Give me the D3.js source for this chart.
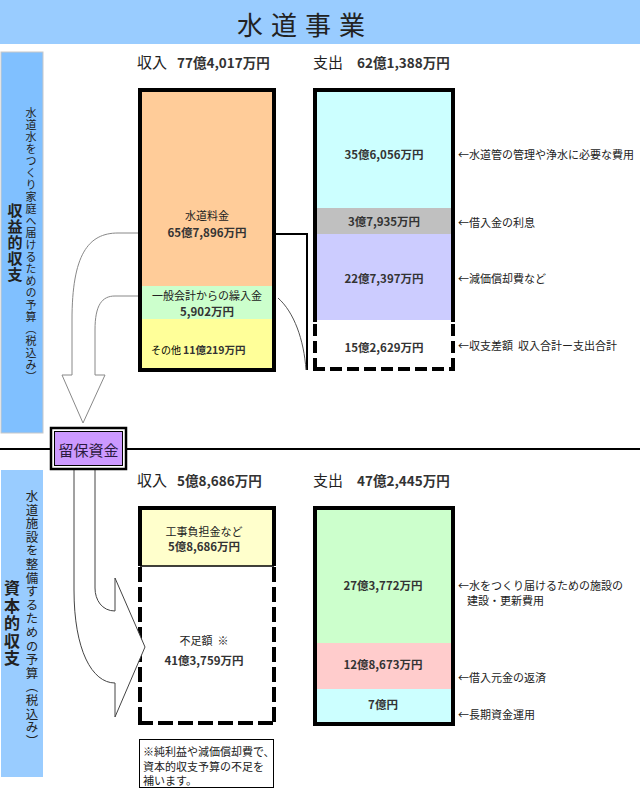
<!DOCTYPE html>
<html lang="ja">
<head>
<meta charset="utf-8">
<title>水道事業</title>
<script src="https://cdn.jsdelivr.net/npm/d3@7"></script>
<style>
  body { margin: 0; background: #fff; }
  svg { display: block; font-family: "Noto Sans CJK JP", "Noto Sans", sans-serif; }
  text { white-space: pre; }
  .val { font-weight: bold; fill: #333; font-size: 11.5px; }
  .lab { fill: #222; font-size: 11px; }
  .ann { fill: #222; font-size: 11px; }
  .head { fill: #222; font-size: 15px; }
  .headval { fill: #333; font-size: 13.5px; font-weight: bold; }
</style>
</head>
<body>
<div id="wrapper"></div>
<script>
// 金額はすべて万円
const sectionTitles = ["収益的収支", "資本的収支"]
const sectionNotes = ["水道水をつくり家庭へ届けるための予算（税込み）", "水道施設を整備するための予算（税込み）"]

const revLabels1 = ["水道料金", "一般会計からの繰入金", "その他"]
const revValues1 = [657896, 5902, 110219]
const expValues1 = [356056, 37935, 227397]
const expNotes1 = [["←水道管の管理や浄水に必要な費用"], ["←借入金の利息"], ["←減価償却費など"], ["←収支差額  収入合計ー支出合計"]]

const revLabels2 = ["工事負担金など", "不足額  ※"]
const revValues2 = [58686]
const expValues2 = [273772, 128673, 70000]
const expNotes2 = [["←水をつくり届けるための施設の", "建設・更新費用"], ["←借入元金の返済"], ["←長期資金運用"]]

const footNote = ["※純利益や減価償却費で、", "資本的収支予算の不足を", "補います。"]

function yen(v) {
    const oku = Math.floor(v / 10000), man = v % 10000
    let s = ""
    if (oku) s += oku + "億"
    if (man) s += d3.format(",")(man) + "万"
    return s + "円"
}

const revTotal1 = d3.sum(revValues1)
const expTotal1 = d3.sum(expValues1)
const surplus1 = revTotal1 - expTotal1
const expTotal2 = d3.sum(expValues2)
const revTotal2 = d3.sum(revValues2)
const shortfall2 = expTotal2 - revTotal2

const svg = d3.select("#wrapper").append("svg")
    .attr("width", 640)
    .attr("height", 790)

// 見出し
svg.append("rect").attr("x", 0).attr("y", 0).attr("width", 640).attr("height", 44).attr("fill", "#99ccff")
svg.append("text")
    .attr("x", 305).attr("y", 23)
    .attr("text-anchor", "middle").attr("dominant-baseline", "central")
    .style("font-size", "26px").style("letter-spacing", "8px").attr("fill", "#222")
    .text("水道事業")

// 左の帯
const bands = [
    {y: 52, h: 381, fill: "#80c0ff", tx: 15, ty: 203, fs: 15, ls: 1, nx: 31, ny: 107, nfs: 11, nls: 1},
    {y: 470, h: 307, fill: "#99ccff", tx: 12, ty: 580, fs: 16, ls: 1.5, nx: 32, ny: 490, nfs: 12.5, nls: 1.1}
]
bands.forEach((b, i) => {
    svg.append("rect")
        .attr("x", 1).attr("y", b.y).attr("width", 42).attr("height", b.h)
        .attr("fill", b.fill).attr("stroke", i == 0 ? "#c8c8c8" : "none")
    svg.append("text")
        .attr("x", b.tx).attr("y", b.ty)
        .style("writing-mode", "vertical-rl")
        .style("font-size", b.fs + "px").style("font-weight", "bold").style("letter-spacing", b.ls + "px")
        .attr("fill", "#222")
        .text(sectionTitles[i])
    svg.append("text")
        .attr("x", b.nx).attr("y", b.ny)
        .style("writing-mode", "vertical-rl")
        .style("font-size", b.nfs + "px").style("letter-spacing", b.nls + "px")
        .attr("fill", "#222")
        .text(sectionNotes[i])
})

// 区切り線
svg.append("line").attr("x1", 0).attr("x2", 640).attr("y1", 449).attr("y2", 449)
    .attr("stroke", "#000").attr("stroke-width", 2)

// 棒の位置
const revX = [140, 274], expX = [315, 453]
const annX = 458

function header(y, title, value, x, vx) {
    const t = svg.append("text").attr("y", y)
    t.append("tspan").attr("class", "head").attr("x", x).text(title)
    t.append("tspan").attr("class", "headval").attr("x", vx).text(yen(value))
}
header(68, "収入", revTotal1, 137, 177)
header(68, "支出", expTotal1, 313, 357)
header(486, "収入", revTotal2, 137, 177)
header(486, "支出", expTotal2, 313, 357)

function segments(values, scale) {
    const stops = [0, ...d3.cumsum(values)]
    return values.map((v, i) => ({v, y0: scale(stops[i]), y1: scale(stops[i + 1])}))
}

function fills(segs, xs, colors) {
    svg.append("g").selectAll("rect").data(segs).join("rect")
        .attr("x", xs[0] + 2).attr("width", xs[1] - xs[0] - 4)
        .attr("y", d => d.y0).attr("height", d => d.y1 - d.y0)
        .attr("fill", (d, i) => colors[i])
}

function solid(d) {
    svg.append("path").attr("d", d).attr("fill", "none")
        .attr("stroke", "#000").attr("stroke-width", 4)
}

function dashed(xs, ya, yb, dash) {
    const g = svg.append("g").attr("stroke", "#000").attr("stroke-width", 4).attr("stroke-dasharray", dash)
    g.append("line").attr("x1", xs[0]).attr("x2", xs[0]).attr("y1", ya).attr("y2", yb)
    g.append("line").attr("x1", xs[1]).attr("x2", xs[1]).attr("y1", ya).attr("y2", yb)
    g.append("line").attr("x1", xs[0] - 2).attr("x2", xs[1] + 2).attr("y1", yb).attr("y2", yb)
}

function valueLabel(x, y, lines) {
    const t = svg.append("text").attr("x", x).attr("text-anchor", "middle").attr("dominant-baseline", "central")
    lines.forEach(l => {
        t.append("tspan").attr("x", x).attr("y", y + l.dy)
            .attr("class", l.bold ? "val" : "lab").text(l.text)
    })
}

function notes(segs, list, dys) {
    segs.forEach((s, i) => {
        const y = (s.y0 + s.y1) / 2 + dys[i]
        list[i].forEach((line, j) => {
            svg.append("text").attr("class", "ann")
                .attr("x", j == 0 ? annX : annX + 9).attr("y", y + j * 15)
                .attr("dominant-baseline", "central")
                .text(line)
        })
    })
}

// ---- 収益的収支 ----
const rev1Y = d3.scaleLinear().domain([0, ...d3.cumsum(revValues1)]).range([92, 286, 319, 368])
const exp1Y = d3.scaleLinear().domain([0, ...d3.cumsum(expValues1), revTotal1]).range([92, 208, 234, 320, 369])

const rev1 = segments(revValues1, rev1Y)
const exp1 = segments([...expValues1, surplus1], exp1Y)

fills(rev1, revX, ["#ffcc99", "#ccffcc", "#ffff99"])
fills(exp1.slice(0, 3), expX, ["#ccffff", "#c0c0c0", "#ccccff"])

solid(`M${revX[0]},90 H${revX[1]} V370 H${revX[0]} Z`)
solid(`M${expX[0]},322 V90 H${expX[1]} V322`)
dashed(expX, 324, 369, "12,5")

const rcx1 = (revX[0] + revX[1]) / 2, ecx1 = (expX[0] + expX[1]) / 2
valueLabel(rcx1, rev1[0].y0 + (rev1[0].y1 - rev1[0].y0) * 0.68, [
    {text: revLabels1[0], dy: -8.5}, {text: yen(revValues1[0]), dy: 8.5, bold: true}])
valueLabel(rcx1, (rev1[1].y0 + rev1[1].y1) / 2, [
    {text: revLabels1[1], dy: -7.5}, {text: yen(revValues1[1]), dy: 8, bold: true}])
const otherY = (rev1[2].y0 + rev1[2].y1) / 2 + 6
svg.append("text").attr("class", "lab").attr("x", 151).attr("y", otherY)
    .attr("dominant-baseline", "central").style("fill", "#000").style("font-size", "10px").text(revLabels1[2])
svg.append("text").attr("class", "val").attr("x", 183).attr("y", otherY)
    .attr("dominant-baseline", "central").style("font-size", "10.5px").text(yen(revValues1[2]))

const expDy1 = [4, 0, 1, 2]
exp1.forEach((s, i) => valueLabel(ecx1, (s.y0 + s.y1) / 2 + expDy1[i], [{text: yen(s.v), dy: 0, bold: true}]))
notes(exp1, expNotes1, [4, 1, 1, 0])

// 収入から支出への線
svg.append("path").attr("d", `M${revX[1] + 2},234 H307 V370`)
    .attr("fill", "none").attr("stroke", "#000").attr("stroke-width", 2)
svg.append("path").attr("d", `M${revX[1] + 4},298 C294,312 304,340 306,370`)
    .attr("fill", "none").attr("stroke", "#555").attr("stroke-width", 1)

// ---- 資本的収支 ----
const rev2Y = d3.scaleLinear().domain([0, revTotal2, expTotal2]).range([510, 566, 723])
const exp2Y = d3.scaleLinear().domain([0, ...d3.cumsum(expValues2)]).range([510, 643, 689, 722])

const rev2 = segments([...revValues2, shortfall2], rev2Y)
const exp2 = segments(expValues2, exp2Y)

fills(rev2.slice(0, 1), revX, ["#ffffcc"])
fills(exp2, expX, ["#ccffcc", "#ffcccc", "#ccffff"])

solid(`M${revX[0]},${rev2[0].y1} V508 H${revX[1]} V${rev2[0].y1}`)
svg.append("line").attr("x1", revX[0]).attr("x2", revX[1]).attr("y1", rev2[0].y1).attr("y2", rev2[0].y1)
    .attr("stroke", "#000").attr("stroke-width", 1.5)
dashed(revX, rev2[0].y1 + 1, 723, "15,5")
solid(`M${expX[0]},508 H${expX[1]} V724 H${expX[0]} Z`)

valueLabel(rcx1 - 3, (rev2[0].y0 + rev2[0].y1) / 2, [
    {text: revLabels2[0], dy: -7}, {text: yen(revValues2[0]), dy: 8, bold: true}])
valueLabel(rcx1 - 3, (rev2[1].y0 + rev2[1].y1) / 2 + 5, [
    {text: revLabels2[1], dy: -10}, {text: yen(shortfall2), dy: 10, bold: true}])

const expDy2 = [8, -2, -2]
exp2.forEach((s, i) => valueLabel(ecx1 - 1, (s.y0 + s.y1) / 2 + expDy2[i], [{text: yen(s.v), dy: 0, bold: true}]))
notes(exp2, expNotes2, [8, 11, 8])

// 注記
svg.append("rect").attr("x", 139.5).attr("y", 739.5).attr("width", 134).attr("height", 48)
    .attr("fill", "#fff").attr("stroke", "#000")
svg.append("g").selectAll("text").data(footNote).join("text")
    .attr("x", 143).attr("y", (d, i) => 751 + i * 14.5)
    .attr("dominant-baseline", "central")
    .style("font-size", "11px").attr("fill", "#222")
    .text(d => d)

// 矢印
svg.append("path")
    .attr("d", "M138,233 L118,233 C88,233 72,255 72,320 L72,375 L62,375 L83,423 L105,375 L95,375 L95,330 C95,305 102,296 115,296 L138,296")
    .attr("fill", "#fff").attr("stroke", "#888").attr("stroke-width", 1)
svg.append("path")
    .attr("d", "M74,470 L74,590 C74,650 92,683 115,683 L115,717 L145,647 L115,578 L115,611 C102,611 95,600 95,588 L95,470")
    .attr("fill", "#fff").attr("stroke", "#444").attr("stroke-width", 1)

// 留保資金
svg.append("rect").attr("x", 51).attr("y", 428).attr("width", 75).attr("height", 41)
    .attr("fill", "#fff").attr("stroke", "#000").attr("stroke-width", 2.5)
svg.append("rect").attr("x", 54.5).attr("y", 431.5).attr("width", 68).attr("height", 34)
    .attr("fill", "#cc99ff").attr("stroke", "#000").attr("stroke-width", 1)
svg.append("text").attr("x", 88.5).attr("y", 449)
    .attr("text-anchor", "middle").attr("dominant-baseline", "central")
    .style("font-size", "15px").attr("fill", "#2a1a40")
    .text("留保資金")
</script>
</body>
</html>
